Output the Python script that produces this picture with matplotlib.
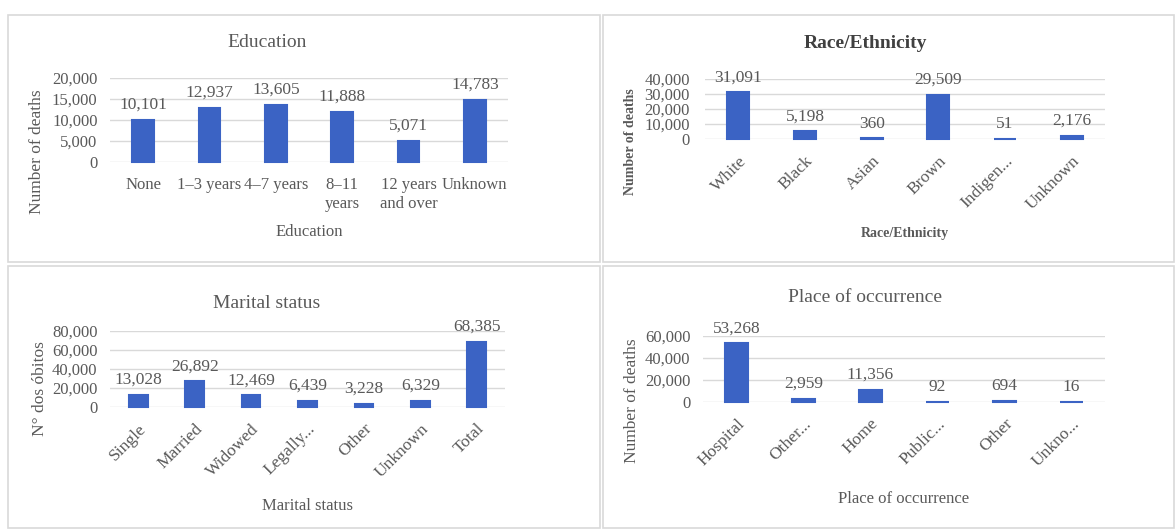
import matplotlib.pyplot as plt
from matplotlib.patches import Rectangle

# data
edu_labels = ['None', '1–3 years', '4–7 years', '8–11\nyears', '12 years\nand over', 'Unknown']
edu_values = [10101, 12937, 13605, 11888, 5071, 14783]

race_labels = ['White', 'Black', 'Asian', 'Brown', 'Indigen...', 'Unknown']
race_values = [31091, 5198, 360, 29509, 51, 2176]

marital_labels = ['Single', 'Married', 'Widowed', 'Legally...', 'Other', 'Unknown', 'Total']
marital_values = [13028, 26892, 12469, 6439, 3228, 6329, 68385]

place_labels = ['Hospital', 'Other...', 'Home', 'Public...', 'Other', 'Unkno...']
place_values = [53268, 2959, 11356, 92, 694, 16]

W, H = 1176, 530
BLUE = '#3b63c4'
TXT = '#595959'
GRID = '#d9d9d9'

plt.rcParams['font.family'] = ['Liberation Serif', 'DejaVu Serif']

fig = plt.figure(figsize=(W / 100, H / 100), dpi=100)


def px_axes(x0, y0, x1, y1):
    # pixel box (top-left origin) -> axes
    return fig.add_axes([x0 / W, 1 - y1 / H, (x1 - x0) / W, (y1 - y0) / H])


def panel(x0, y0, x1, y1):
    fig.patches.append(Rectangle((x0 / W, 1 - y1 / H), (x1 - x0) / W, (y1 - y0) / H,
                                 transform=fig.transFigure, fill=False,
                                 edgecolor=GRID, linewidth=1.2))


def bar_chart(ax, labels, values, ymax, step, rotate, ypad=9, xpad=10, tick_fs=12.5):
    x = range(len(values))
    # edge line so near-zero bars still show as a thin stroke, like the original
    ax.bar(x, values, width=0.33, color=BLUE, edgecolor=BLUE, linewidth=1.5,
           zorder=3, clip_on=False)
    ax.set_xlim(-0.5, len(values) - 0.5)
    ax.set_ylim(0, ymax)
    ticks = list(range(0, ymax + 1, step))
    ax.set_yticks(ticks)
    ax.set_yticklabels([f'{v:,}' for v in ticks], fontsize=12, color=TXT)
    ax.grid(axis='y', color=GRID, linewidth=1, zorder=0)
    for s in ax.spines.values():
        s.set_visible(False)
    ax.tick_params(axis='y', length=0, pad=ypad)
    ax.tick_params(axis='x', length=0, pad=xpad)
    ax.set_xticks(list(x))
    if rotate:
        ax.set_xticklabels(labels, rotation=45, ha='right', rotation_mode='anchor',
                           fontsize=tick_fs, color=TXT)
    else:
        ax.set_xticklabels(labels, fontsize=tick_fs, color=TXT, linespacing=1.2)
    for i, v in zip(x, values):
        ax.annotate(f'{v:,}', (i, v), xytext=(0, 5), textcoords='offset points',
                    ha='center', va='bottom', fontsize=12.5, color=TXT)


def titles(ax, title, tx, ty, ylabel, yx, yy, xlabel, xy, bold=False):
    w = 'bold' if bold else 'normal'
    ax.text(tx, ty, title, transform=ax.transAxes, ha='center', va='center',
            fontsize=14, fontweight=w, color='#404040' if bold else TXT)
    ax.set_ylabel(ylabel, fontsize=10 if bold else 12.5, color=TXT, fontweight=w,
                  va='center')
    ax.yaxis.set_label_coords(yx, yy)
    ax.set_xlabel(xlabel, fontsize=10 if bold else 12, color=TXT, fontweight=w,
                  va='center')
    ax.xaxis.set_label_coords(0.5, xy)


panel(8, 15, 600, 262)
panel(603, 15, 1174, 262)
panel(8, 266, 600, 528)
panel(603, 266, 1174, 528)

ax1 = px_axes(110, 78, 508, 162)
bar_chart(ax1, edu_labels, edu_values, 20000, 5000, False, xpad=11, tick_fs=12)
titles(ax1, 'Education', 0.394, 1.417, 'Number of deaths', -0.183, 0.12,
       'Education', -0.833)

ax2 = px_axes(705, 79, 1105, 139)
bar_chart(ax2, race_labels, race_values, 40000, 10000, True, ypad=11)
titles(ax2, 'Race/Ethnicity', 0.4, 1.6, 'Number of deaths', -0.1875, -0.05,
       'Race/Ethnicity', -1.567, bold=True)

ax3 = px_axes(110, 331, 505, 407)
bar_chart(ax3, marital_labels, marital_values, 80000, 20000, True)
titles(ax3, 'Marital status', 0.397, 1.368, 'N° dos óbitos', -0.177, 0.237,
       'Marital status', -1.303)

ax4 = px_axes(703, 336, 1105, 402)
bar_chart(ax4, place_labels, place_values, 60000, 20000, True)
titles(ax4, 'Place of occurrence', 0.403, 1.576, 'Number of deaths', -0.177, 0.015,
       'Place of occurrence', -1.47)

fig.savefig('out.png', dpi=100)
